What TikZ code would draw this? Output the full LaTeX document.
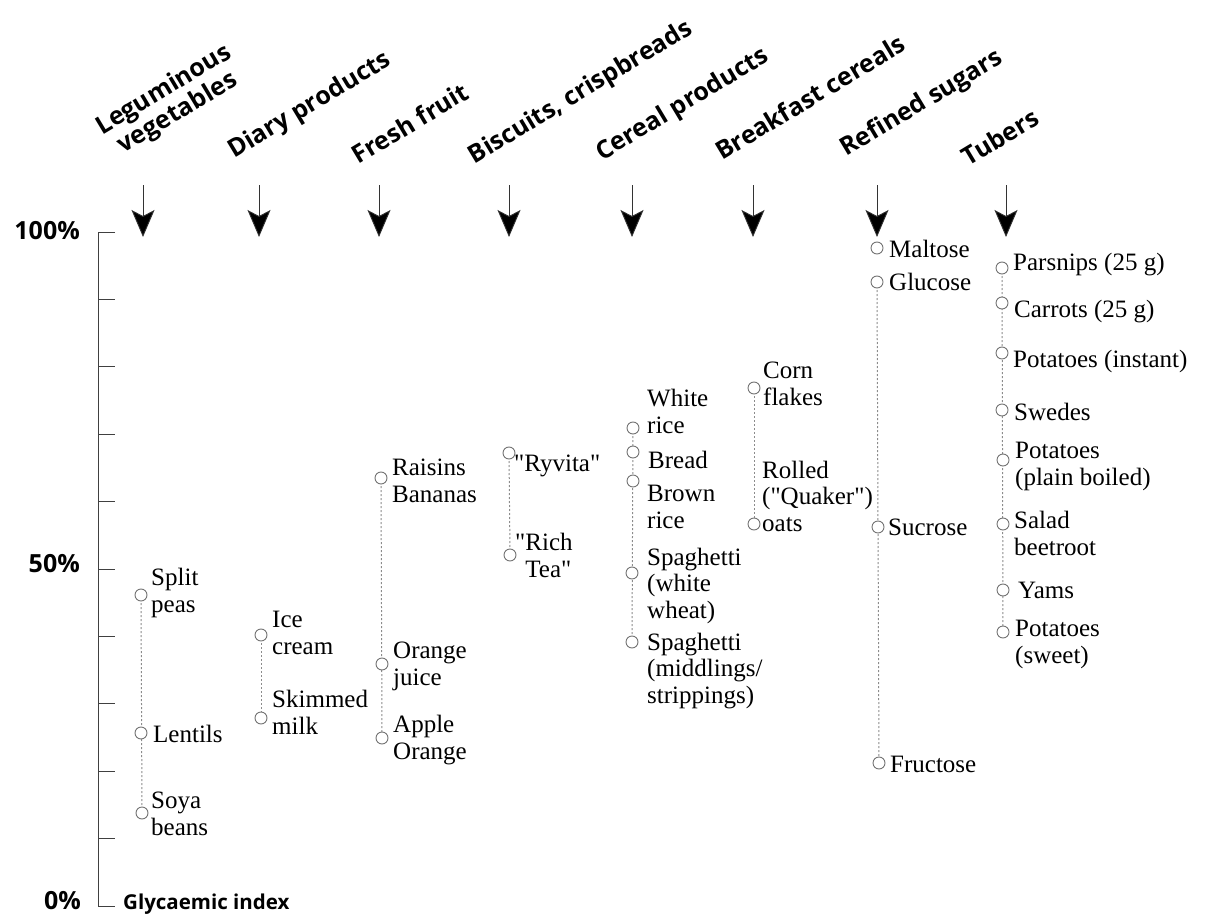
\documentclass[tikz,border=0pt]{standalone}
\usepackage{fontspec}
\setmainfont{Liberation Serif}[Ligatures=TeXOff]
\newfontfamily\hdfont{Open Sans}
\usetikzlibrary{arrows.meta}
\pgfdeclarelayer{bg}
\pgfsetlayers{bg,main}
\newcommand\qq{\char34\relax}
\begin{document}
\begin{tikzpicture}[x=1pt,y=-1pt,
  lbl/.style={anchor=base west, inner sep=0pt, align=left, font=\fontsize{25}{26.5}\selectfont},
  dot/.style={circle, draw=black!55, fill=white, minimum size=12pt, inner sep=0pt, line width=0.9pt},
  link/.style={draw=black!45, line width=1pt, dash pattern=on 2pt off 2pt},
  head/.style={font=\hdfont\bfseries\fontsize{25}{27}\selectfont, rotate=31, align=center, inner sep=0pt},
  pct/.style={font=\hdfont\bfseries\fontsize{25}{27}\selectfont, anchor=base east, inner sep=0pt},
  axisline/.style={draw=black!75, line width=1pt},
  catarrow/.style={draw=black!80, line width=0.9pt, -{Stealth[length=27pt,width=23pt,inset=6pt,fill=black]}}
]
\useasboundingbox (0,0) rectangle (1205,915);

% axis
\coordinate (ax0) at (98,906);
\coordinate (ax100) at (98,232);
\coordinate (axend) at (115,906);
\coordinate (axtop) at (115,232);
\draw[axisline] (axtop) -- (ax100) -- (ax0) -- (axend);
\foreach \i in {1,...,9} {
  \coordinate (t\i) at (98,{906-67.4*\i});
  \coordinate (te\i) at (115,{906-67.4*\i});
  \draw[axisline] (t\i) -- (te\i);
}
\node[pct] (p100) at (80,239) {100\%};
\node[pct] (p50) at (80,572) {50\%};
\node[pct] (p0) at (81,909) {0\%};
\node[font=\hdfont\bfseries\fontsize{20.5}{24}\selectfont, anchor=base west, inner sep=0pt] (gi) at (123,909) {Glycaemic index};

% headings
\node[head] (h1) at (171,102) {Leguminous\\vegetables};
\node[head] (h2) at (310,106) {Diary products};
\node[head] (h3) at (410,123) {Fresh fruit};
\node[head] (h4) at (581,93) {Biscuits, crispbreads};
\node[head] (h5) at (683,105) {Cereal products};
\node[head] (h6) at (810,97) {Breakfast cereals};
\node[head] (h7) at (922,104) {Refined sugars};
\node[head] (h8) at (1000,137) {Tubers};

% arrows
\foreach \n/\x in {1/143,2/259,3/379,4/509,5/632,6/753,7/877,8/1006} {
  \coordinate (as\n) at (\x,185);
  \coordinate (ae\n) at (\x,237);
  \draw[catarrow] (as\n) -- (ae\n);
}

% circles
\node[dot] (a1) at (141,595) {};
\node[dot] (a2) at (141,733) {};
\node[dot] (a3) at (142,813) {};
\node[dot] (b1) at (261,635) {};
\node[dot] (b2) at (261,718) {};
\node[dot] (c1) at (381,478) {};
\node[dot] (c2) at (382,664) {};
\node[dot] (c3) at (382,738) {};
\node[dot] (d1) at (509,453) {};
\node[dot] (d2) at (510,555) {};
\node[dot] (e1) at (633,428) {};
\node[dot] (e2) at (633,452) {};
\node[dot] (e3) at (633,481) {};
\node[dot] (e4) at (632,573) {};
\node[dot] (e5) at (632,642) {};
\node[dot] (f1) at (754,388) {};
\node[dot] (f2) at (754,524) {};
\node[dot] (g1) at (877,248) {};
\node[dot] (g2) at (877,282) {};
\node[dot] (g3) at (878,527) {};
\node[dot] (g4) at (879,763) {};
\node[dot] (k1) at (1002,268) {};
\node[dot] (k2) at (1002,303) {};
\node[dot] (k3) at (1002,353) {};
\node[dot] (k4) at (1002,410) {};
\node[dot] (k5) at (1003,460) {};
\node[dot] (k6) at (1003,524) {};
\node[dot] (k7) at (1003,590) {};
\node[dot] (k8) at (1003,632) {};

% dotted links
\begin{pgfonlayer}{bg}
\draw[link] (a1.center) -- (a3.center);
\draw[link] (b1.center) -- (b2.center);
\draw[link] (c1.center) -- (c3.center);
\draw[link] (d1.center) -- (d2.center);
\draw[link] (e1.center) -- (e5.center);
\draw[link] (f1.center) -- (f2.center);
\draw[link] (g2.center) -- (g4.center);
\draw[link] (k1.center) -- (k8.center);
\end{pgfonlayer}

% labels (anchor = baseline of last line)
\node[lbl] (la1) at (151,612) {Split\\peas};
\node[lbl] (la2) at (153,742) {Lentils};
\node[lbl] (la3) at (151,835) {Soya\\beans};
\node[lbl] (lb1) at (272,654) {Ice\\cream};
\node[lbl] (lb2) at (272,734) {Skimmed\\milk};
\node[lbl] (lc1) at (392,502) {Raisins\\Bananas};
\node[lbl] (lc2) at (393,685) {Orange\\juice};
\node[lbl] (lc3) at (393,759) {Apple\\Orange};
\node[lbl] (ld1) at (514,471) {\qq Ryvita\qq};
\node[lbl] (ld2) at (515,577) {\qq Rich\\\hphantom{\qq}Tea\qq};
\node[lbl] (le1) at (647,433) {White\\rice};
\node[lbl] (le2) at (648,468) {Bread};
\node[lbl] (le3) at (647,528) {Brown\\rice};
\node[lbl] (le4) at (647,618) {Spaghetti\\(white\\wheat)};
\node[lbl] (le5) at (647,703) {Spaghetti\\(middlings/\\strippings)};
\node[lbl] (lf1) at (763,405) {Corn\\flakes};
\node[lbl] (lf2) at (762,531) {Rolled\\(\qq Quaker\qq)\\oats};
\node[lbl] (lg1) at (889,257) {Maltose};
\node[lbl] (lg2) at (889,290) {Glucose};
\node[lbl] (lg3) at (888,535) {Sucrose};
\node[lbl] (lg4) at (890,772) {Fructose};
\node[lbl] (lk1) at (1013,270) {Parsnips (25 g)};
\node[lbl] (lk2) at (1014,317) {Carrots (25 g)};
\node[lbl] (lk3) at (1013,367) {Potatoes (instant)};
\node[lbl] (lk4) at (1014,420) {Swedes};
\node[lbl] (lk5) at (1015,485) {Potatoes\\(plain boiled)};
\node[lbl] (lk6) at (1014,555) {Salad\\beetroot};
\node[lbl] (lk7) at (1018,598) {Yams};
\node[lbl] (lk8) at (1015,663) {Potatoes\\(sweet)};
\end{tikzpicture}
\end{document}
